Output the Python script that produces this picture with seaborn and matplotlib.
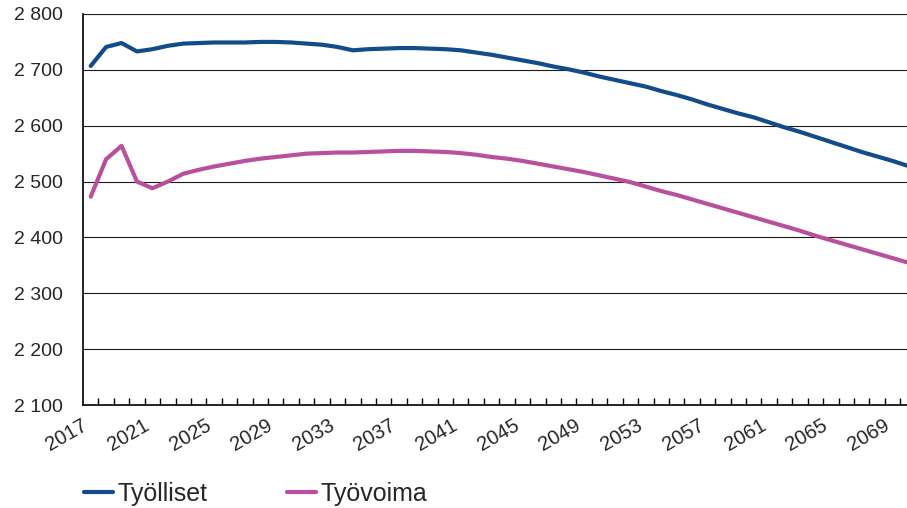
import numpy as np
import pandas as pd
import matplotlib
matplotlib.use("Agg")
import matplotlib.pyplot as plt
from matplotlib.ticker import FuncFormatter, FixedLocator
import seaborn as sns

# Years of the projection
years = list(range(2017, 2071))

# Employed persons, thousands
tyolliset = [
    2707, 2741, 2748, 2733, 2737, 2743, 2747, 2748, 2749, 2749,
    2749, 2750, 2750, 2749, 2747, 2745, 2741, 2735, 2737, 2738,
    2739, 2739, 2738, 2737, 2735, 2731, 2727, 2722, 2717, 2712,
    2706, 2701, 2695, 2688, 2682, 2676, 2670, 2662, 2655, 2647,
    2638, 2630, 2622, 2615, 2606, 2597, 2589, 2580, 2571, 2562,
    2553, 2545, 2537, 2528,
]

# Labour force, thousands
tyovoima = [
    2473, 2540, 2564, 2500, 2488, 2500, 2514, 2521, 2527, 2532,
    2537, 2541, 2544, 2547, 2550, 2551, 2552, 2552, 2553, 2554,
    2555, 2555, 2554, 2553, 2551, 2548, 2544, 2541, 2537, 2532,
    2527, 2522, 2517, 2511, 2505, 2499, 2491, 2483, 2476, 2468,
    2460, 2452, 2444, 2436, 2428, 2420, 2412, 2403, 2395, 2387,
    2379, 2371, 2363, 2355,
]

series_names = ["Työlliset", "Työvoima"]
series_colors = ["#124C8A", "#B8509E"]

y_ticks = [2100, 2200, 2300, 2400, 2500, 2600, 2700, 2800]
x_tick_years = list(range(2017, 2070, 4))

df = pd.DataFrame({
    "Vuosi": years * 2,
    "Arvo": tyolliset + tyovoima,
    "Sarja": [series_names[0]] * len(years) + [series_names[1]] * len(years),
})

sns.set_style("white")
plt.rcParams["font.family"] = ["Liberation Sans", "DejaVu Sans"]

W, H = 907, 508
fig = plt.figure(figsize=(W / 100, H / 100), dpi=100)
ax = fig.add_axes([83 / W, 1 - 405 / H, (W - 83) / W, (405 - 14) / H])

sns.lineplot(
    data=df, x="Vuosi", y="Arvo", hue="Sarja",
    palette=dict(zip(series_names, series_colors)),
    linewidth=3.0, ax=ax, legend=False,
)

# Category-style x axis: labels at every fourth year, ticks between years
ax.set_xlim(years[0] - 0.5, years[0] - 0.5 + (W - 83) / 15.42)
ax.set_ylim(y_ticks[0], y_ticks[-1])
ax.xaxis.set_major_locator(FixedLocator(x_tick_years))
ax.xaxis.set_minor_locator(FixedLocator([y + 0.5 for y in years[:-1]]))
ax.set_xticklabels([str(y) for y in x_tick_years], rotation=30, ha="right",
                   fontsize=14.5)
ax.tick_params(axis="x", which="major", length=0, pad=8)
ax.tick_params(axis="x", which="minor", direction="in", length=5,
               width=1.0, color="black", bottom=True)

ax.set_yticks(y_ticks)
ax.yaxis.set_major_formatter(FuncFormatter(lambda v, p: f"{v:,.0f}".replace(",", " ")))
ax.tick_params(axis="y", length=0, pad=14.5, labelsize=14)

ax.grid(axis="y", color="#1a1a1a", linewidth=0.8)
ax.grid(axis="x", visible=False)
ax.set_axisbelow(True)
for side in ["top", "right"]:
    ax.spines[side].set_visible(False)
for side in ["left", "bottom"]:
    ax.spines[side].set_color("black")
    ax.spines[side].set_linewidth(1.2)
ax.set_xlabel("")
ax.set_ylabel("")

handles = [plt.Line2D([], [], color=c, linewidth=3.0) for c in series_colors]
fig.legend(handles, series_names, loc="center left",
           bbox_to_anchor=(84 / W, 1 - 494 / H), ncol=2, frameon=False,
           fontsize=18, handlelength=1.15, handletextpad=0.2,
           columnspacing=3.16, borderpad=0, borderaxespad=0)

fig.savefig("out.png", dpi=100)
